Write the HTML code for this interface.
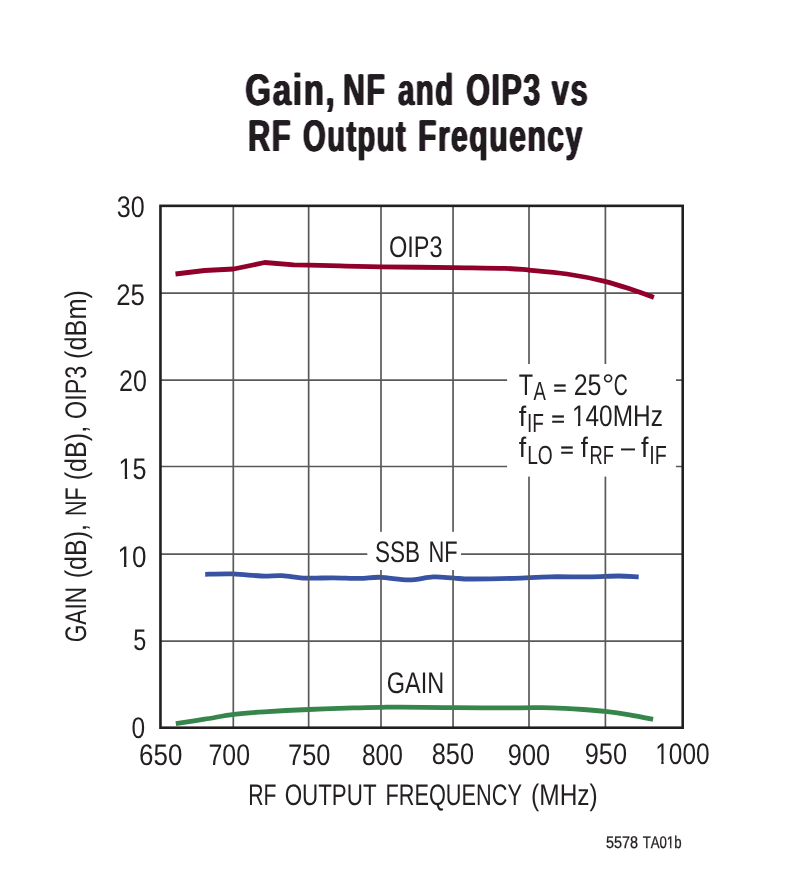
<!DOCTYPE html>
<html lang="en"><head><meta charset="utf-8"><title>Gain, NF and OIP3 vs RF Output Frequency</title>
<style>
html,body{margin:0;padding:0;background:#fff;}
body{width:807px;height:870px;overflow:hidden;}
svg{display:block;}
text{font-family:"Liberation Sans",sans-serif;fill:#231f20;font-kerning:none;text-rendering:geometricPrecision;}
.title text{font-weight:700;stroke:none;}
</style></head><body>
<svg width="807" height="870" viewBox="0 0 807 870">
<defs><filter id="hb" x="-5%" y="-20%" width="110%" height="140%"><feConvolveMatrix order="3 1" kernelMatrix="2 3 2" divisor="7"/><feComponentTransfer><feFuncA type="linear" slope="2" intercept="0"/></feComponentTransfer></filter></defs>
<rect width="807" height="870" fill="#fff"/>
<path d="M205.2,574.3 C209.8,574.2 223.7,573.6 233.1,573.9 C242.5,574.2 253.2,575.7 261.4,576.0 C269.6,576.3 274.8,575.4 282.2,575.7 C289.6,576.1 297.6,577.8 306.0,578.1 C314.4,578.5 323.8,577.8 332.7,577.8 C341.6,577.8 351.6,578.5 359.5,578.4 C367.4,578.3 372.1,577.0 380.4,577.3 C388.6,577.5 400.2,580.0 409.0,579.9 C417.8,579.8 425.8,577.2 433.3,576.9 C440.8,576.6 447.8,577.8 454.1,578.1 C460.5,578.5 461.4,579.0 471.4,579.0 C481.4,579.0 501.2,578.7 514.3,578.3 C527.4,577.9 537.6,577.0 550.0,576.8 C562.4,576.6 577.3,577.0 588.7,576.9 C600.1,576.8 610.1,576.0 618.4,576.0 C626.7,576.0 635.3,576.8 638.7,576.9" stroke="#3853a4" fill="none" stroke-width="4.8" stroke-linejoin="round"/>
<g stroke="#58595b" stroke-width="1.7" fill="none">
<line x1="233.3" y1="205.85" x2="233.3" y2="727.7"/>
<line x1="308.65" y1="205.85" x2="308.65" y2="727.7"/>
<line x1="381.0" y1="205.85" x2="381.0" y2="727.7"/>
<line x1="453.05" y1="205.85" x2="453.05" y2="727.7"/>
<line x1="529.0" y1="205.85" x2="529.0" y2="727.7"/>
<line x1="605.4" y1="205.85" x2="605.4" y2="727.7"/>
<line x1="160.46" y1="293.2" x2="682.7" y2="293.2"/>
<line x1="160.46" y1="380.2" x2="682.7" y2="380.2"/>
<line x1="160.46" y1="466.5" x2="682.7" y2="466.5"/>
<line x1="160.46" y1="554.2" x2="682.7" y2="554.2"/>
<line x1="160.46" y1="641.15" x2="682.7" y2="641.15"/>
</g>
<rect x="507.1" y="364.0" width="168.8" height="112.6" fill="#fff"/>
<rect x="367.3" y="531.8" width="93.7" height="38.2" fill="#fff"/>
<rect x="160.46" y="205.85" width="522.24" height="521.85" fill="none" stroke="#231f20" stroke-width="2.6"/>
<g fill="none" stroke-width="4.8" stroke-linejoin="round">
<path d="M175.5,274.0 L204.6,270.5 L233.6,269.0 L264.8,262.5 L293.8,264.8 C296.4,264.9 301.8,265.0 309.5,265.2 C317.2,265.4 328.0,265.6 340.0,265.9 C352.0,266.2 362.5,266.5 381.3,266.8 C400.1,267.1 432.1,267.3 452.7,267.6 C473.3,267.9 492.3,268.0 505.0,268.4 C517.7,268.8 518.7,269.2 529.0,270.1 C539.3,271.0 554.3,272.1 566.9,274.0 C579.5,275.9 593.6,278.6 604.8,281.3 C615.9,284.0 625.6,287.5 633.8,290.2 C642.0,292.9 650.5,296.3 653.9,297.5" stroke="#90002a"/>
<path d="M175.8,723.6 C180.6,722.9 194.9,720.7 204.6,719.2 C214.3,717.7 223.9,715.6 233.8,714.4 C243.7,713.2 251.6,712.6 264.1,711.8 C276.6,711.0 293.8,710.1 308.7,709.5 C323.6,708.9 341.1,708.3 353.3,707.9 C365.5,707.5 373.8,707.4 381.6,707.3 C389.4,707.2 387.9,707.1 400.0,707.2 C412.1,707.3 433.9,707.6 453.9,707.7 C473.9,707.8 503.7,707.8 520.0,707.8 C536.3,707.8 541.1,707.5 551.6,707.8 C562.1,708.1 574.2,708.9 583.2,709.5 C592.2,710.1 597.6,710.5 605.3,711.4 C613.0,712.3 621.5,713.5 629.5,714.8 C637.5,716.1 649.2,718.6 653.1,719.4" stroke="#36864c"/>
</g>
<g class="title" filter="url(#hb)">
<text transform="translate(245.34,105.00) scale(0.7443,1)" font-size="44.50" letter-spacing="2.2">Gain,</text>
<text transform="translate(343.07,105.00) scale(0.6817,1)" font-size="44.50" letter-spacing="2.2">NF</text>
<text transform="translate(398.04,105.00) scale(0.6610,1)" font-size="44.50" letter-spacing="2.2">and</text>
<text transform="translate(466.25,105.00) scale(0.6856,1)" font-size="44.50" letter-spacing="2.2">OIP3</text>
<text transform="translate(551.68,105.00) scale(0.6942,1)" font-size="44.50" letter-spacing="2.2">vs</text>
<text transform="translate(248.04,151.00) scale(0.6923,1)" font-size="44.50" letter-spacing="2.2">RF</text>
<text transform="translate(303.11,151.00) scale(0.6540,1)" font-size="44.50" letter-spacing="2.2">Output</text>
<text transform="translate(417.98,151.00) scale(0.6775,1)" font-size="44.50" letter-spacing="2.2">Frequency</text>
</g>
<g>
<text transform="translate(116.84,217.00) scale(0.8429,1)" font-size="29.80">30</text>
<text transform="translate(116.31,305.30) scale(0.8619,1)" font-size="29.80">25</text>
<text transform="translate(119.04,391.10) scale(0.8398,1)" font-size="29.80">20</text>
<g transform="translate(118.59,479.40) scale(0.8405,1)"><text font-size="29.80">15</text><g fill="#fff"><rect x="0.97" y="-3.43" width="6.42" height="4.93"/><rect x="10.23" y="-3.43" width="6.19" height="4.93"/></g></g>
<g transform="translate(117.50,567.30) scale(0.8724,1)"><text font-size="29.80">10</text><g fill="#fff"><rect x="0.97" y="-3.43" width="6.42" height="4.93"/><rect x="10.23" y="-3.43" width="6.19" height="4.93"/></g></g>
<text transform="translate(133.16,650.10) scale(0.7856,1)" font-size="29.80">5</text>
<text transform="translate(131.44,737.70) scale(0.8213,1)" font-size="29.80">0</text>
<text transform="translate(139.08,764.70) scale(0.8694,1)" font-size="29.80">650</text>
<text transform="translate(208.53,764.70) scale(0.8335,1)" font-size="29.80">700</text>
<text transform="translate(288.10,764.70) scale(0.8527,1)" font-size="29.80">750</text>
<text transform="translate(361.93,764.70) scale(0.8231,1)" font-size="29.80">800</text>
<text transform="translate(431.80,763.70) scale(0.8485,1)" font-size="29.80">850</text>
<text transform="translate(507.81,764.90) scale(0.8503,1)" font-size="29.80">900</text>
<text transform="translate(584.71,763.70) scale(0.8503,1)" font-size="29.80">950</text>
<g transform="translate(655.25,763.70) scale(0.8191,1)"><text font-size="29.80">1000</text><g fill="#fff"><rect x="0.97" y="-3.43" width="6.42" height="4.93"/><rect x="10.23" y="-3.43" width="6.19" height="4.93"/></g></g>
<text transform="translate(248.26,805.00) scale(0.7122,1)" font-size="29.80">RF</text>
<text transform="translate(284.64,805.00) scale(0.7508,1)" font-size="29.80">OUTPUT</text>
<text transform="translate(385.42,805.00) scale(0.7299,1)" font-size="29.80">FREQUENCY</text>
<text transform="translate(531.08,805.00) scale(0.8218,1)" font-size="29.80">(MHz)</text>
<text transform="translate(605.92,848.00) scale(0.8512,1)" font-size="16.90" stroke="#231f20" stroke-width="0.3">5578</text>
<g transform="translate(642.70,848.00) scale(0.7802,1)"><text font-size="16.90" stroke="#231f20" stroke-width="0.3">TA01b</text><g fill="#fff"><rect x="30.98" y="-2.46" width="4.16" height="3.96"/><rect x="36.84" y="-2.46" width="4.03" height="3.96"/></g></g>
<text transform="translate(388.98,257.00) scale(0.7900,1)" font-size="29.80">OIP3</text>
<text transform="translate(374.98,562.30) scale(0.7566,1)" font-size="29.80">SSB</text>
<text transform="translate(428.40,562.30) scale(0.7344,1)" font-size="29.80">NF</text>
<text transform="translate(386.82,692.90) scale(0.7878,1)" font-size="29.80">GAIN</text>
<text transform="rotate(-90) translate(-642.34,86.20) scale(0.7602,1)" font-size="29.80">GAIN</text>
<text transform="rotate(-90) translate(-578.25,86.20) scale(0.8393,1)" font-size="29.80">(dB),</text>
<text transform="rotate(-90) translate(-516.07,86.20) scale(0.7233,1)" font-size="29.80">NF</text>
<text transform="rotate(-90) translate(-480.26,86.20) scale(0.8426,1)" font-size="29.80">(dB),</text>
<text transform="rotate(-90) translate(-418.91,86.20) scale(0.7839,1)" font-size="29.80">OIP3</text>
<text transform="rotate(-90) translate(-358.97,86.20) scale(0.8499,1)" font-size="29.80">(dBm)</text>
<text transform="translate(518.67,394.80) scale(0.7893,1)" font-size="29.80">T</text>
<text transform="translate(533.46,399.70) scale(0.7080,1)" font-size="26.20">A</text>
<text transform="translate(553.28,394.74) scale(0.7667,0.7)" font-size="29.80" stroke="#231f20" stroke-width="0.5">=</text>
<text transform="translate(573.64,394.80) scale(0.8389,1)" font-size="29.80">25</text>
<text transform="translate(602.07,394.80) scale(1.0297,1)" font-size="29.80">°</text>
<text transform="translate(613.71,394.80) scale(0.6517,1)" font-size="29.80">C</text>
<text transform="translate(518.82,425.50) scale(0.9496,1)" font-size="28.20">f</text>
<text transform="translate(526.94,431.70) scale(0.7267,1)" font-size="26.20">IF</text>
<text transform="translate(551.15,425.74) scale(0.7874,0.7)" font-size="29.80" stroke="#231f20" stroke-width="0.5">=</text>
<g transform="translate(571.95,425.50) scale(0.8198,1)"><text font-size="29.80">140MHz</text><g fill="#fff"><rect x="0.97" y="-3.43" width="6.42" height="4.93"/><rect x="10.23" y="-3.43" width="6.19" height="4.93"/></g></g>
<text transform="translate(518.82,457.10) scale(0.9496,1)" font-size="28.20">f</text>
<text transform="translate(527.13,463.90) scale(0.7322,1)" font-size="26.20">LO</text>
<text transform="translate(560.17,457.44) scale(0.7736,0.7)" font-size="29.80" stroke="#231f20" stroke-width="0.5">=</text>
<text transform="translate(580.84,457.10) scale(0.9095,1)" font-size="28.20">f</text>
<text transform="translate(589.40,463.80) scale(0.6997,1)" font-size="26.20">RF</text>
<text transform="translate(621.00,457.10) scale(0.8455,1)" font-size="29.80">–</text>
<text transform="translate(641.02,457.10) scale(0.9496,1)" font-size="28.20">f</text>
<text transform="translate(649.18,463.80) scale(0.7519,1)" font-size="26.20">IF</text>
</g>
</svg>
</body></html>
